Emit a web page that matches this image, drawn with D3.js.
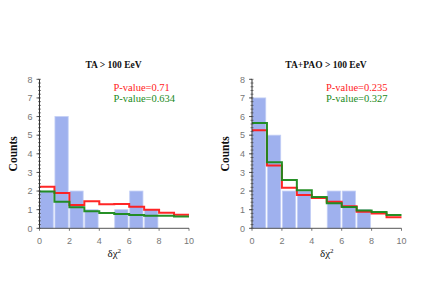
<!DOCTYPE html>
<html>
<head>
<meta charset="utf-8">
<script src="https://cdn.jsdelivr.net/npm/d3@7"></script>
<style>
  html, body { margin: 0; padding: 0; background: #fff; }
  svg { display: block; }
  .tick-lbl { font-family: "Liberation Sans", Arial, sans-serif; font-size: 9px; fill: #777; }
  .title { font-family: "Liberation Serif", "Times New Roman", serif; font-size: 9.5px; font-weight: bold; fill: #111; }
  .ylab { font-family: "Liberation Serif", "Times New Roman", serif; font-size: 11.5px; font-weight: bold; fill: #111; }
  .xlab { font-family: "Liberation Serif", "Times New Roman", serif; font-size: 11px; fill: #111; }
  .pval { font-family: "Liberation Serif", "Times New Roman", serif; font-size: 10.5px; }
</style>
</head>
<body>
<svg id="chart" width="425" height="297"></svg>
<script>
'use strict';

// bin edges are 0..10 in steps of 1
const bin_starts = [0, 1, 2, 3, 4, 5, 6, 7, 8, 9];
const x_ticks = [0, 2, 4, 6, 8, 10];
const y_ticks = [0, 1, 2, 3, 4, 5, 6, 7, 8];

const titles = ['TA > 100 EeV', 'TA+PAO > 100 EeV'];

const counts_ta = [2, 6, 2, 1, 0, 1, 2, 1, 0, 0];
const red_ta = [2.23, 1.89, 1.25, 1.45, 1.29, 1.3, 1.16, 1.0, 0.84, 0.73];
const green_ta = [1.98, 1.43, 1.13, 0.91, 0.82, 0.77, 0.71, 0.68, 0.68, 0.64];
const pvals_ta = ['P-value=0.71', 'P-value=0.634'];

const counts_tapao = [7, 5, 2, 2, 0, 2, 2, 1, 0, 0];
const red_tapao = [5.27, 3.37, 2.18, 1.79, 1.63, 1.43, 1.18, 0.89, 0.79, 0.59];
const green_tapao = [5.66, 3.55, 2.6, 2.04, 1.68, 1.34, 1.14, 0.96, 0.87, 0.71];
const pvals_tapao = ['P-value=0.235', 'P-value=0.327'];

const RED = '#ff1a1a';
const GREEN = '#1a8a1a';

const svg = d3.select('#chart');

const drawPanel = ({ left, title, counts, red, green, pvals }) => {

    const x = d3.scaleLinear().domain([0, 10]).range([left, left + 149.5]);
    const y = d3.scaleLinear().domain([0, 8]).range([228.3, 79.3]);
    const g = svg.append('g');

    // histogram bars, slight gap between them
    g.selectAll('rect.bar')
        .data(bin_starts.filter((d, i) => counts[i] > 0))
        .enter().append('rect')
        .attr('class', 'bar')
        .attr('x', d => x(d) + 0.5)
        .attr('width', d => x(d + 0.92) - x(d) - 0.5)
        .attr('y', d => y(counts[bin_starts.indexOf(d)]))
        .attr('height', d => y(0) - y(counts[bin_starts.indexOf(d)]))
        .style('fill', '#9fb1ee')
        .style('stroke', '#c3cff5')
        .style('stroke-width', 0.8);

    // step curves
    const stepLine = vals => {
        const pts = [];
        vals.forEach((v, i) => { pts.push([bin_starts[i], v]); pts.push([bin_starts[i] + 1, v]); });
        return d3.line().x(d => x(d[0])).y(d => y(d[1]))(pts);
    };

    [[red, RED], [green, GREEN]].forEach(([vals, clr]) => {
        g.append('path')
            .attr('d', stepLine(vals))
            .style('fill', 'none')
            .style('stroke', clr)
            .style('stroke-width', 2)
            .style('opacity', 0.95);
    });

    // y axis with minor ticks
    const y_axis = g.append('g').attr('transform', `translate(${x(0)},0)`);
    y_axis.append('line')
        .attr('y1', y(0)).attr('y2', y(8))
        .style('stroke', '#333').style('stroke-width', 1);
    y_axis.selectAll('line.minor')
        .data(d3.range(0, 8.01, 0.2))
        .enter().append('line')
        .attr('class', 'minor')
        .attr('x1', -1.5).attr('x2', 1.5)
        .attr('y1', d => y(d)).attr('y2', d => y(d))
        .style('stroke', '#333').style('stroke-width', 0.6);
    y_axis.selectAll('line.major')
        .data(y_ticks)
        .enter().append('line')
        .attr('class', 'major')
        .attr('x1', -3).attr('x2', 0)
        .attr('y1', d => y(d)).attr('y2', d => y(d))
        .style('stroke', '#333').style('stroke-width', 0.8);
    y_axis.selectAll('text')
        .data(y_ticks)
        .enter().append('text')
        .attr('class', 'tick-lbl')
        .attr('x', -7).attr('y', d => y(d) + 3.2)
        .attr('text-anchor', 'end')
        .text(d => d);

    // x axis
    const x_axis = g.append('g').attr('transform', `translate(0,${y(0)})`);
    x_axis.append('line')
        .attr('x1', x(0)).attr('x2', x(10))
        .style('stroke', '#555').style('stroke-width', 1);
    x_axis.selectAll('line.tk')
        .data(x_ticks)
        .enter().append('line')
        .attr('class', 'tk')
        .attr('x1', d => x(d)).attr('x2', d => x(d))
        .attr('y1', 0).attr('y2', 2.5)
        .style('stroke', '#555').style('stroke-width', 0.8);
    x_axis.selectAll('text')
        .data(x_ticks)
        .enter().append('text')
        .attr('class', 'tick-lbl')
        .attr('x', d => x(d)).attr('y', 16)
        .attr('text-anchor', 'middle')
        .text(d => d);

    // labels
    g.append('text')
        .attr('class', 'title')
        .attr('x', x(4.95)).attr('y', 68)
        .attr('text-anchor', 'middle')
        .text(title);

    g.append('text')
        .attr('class', 'ylab')
        .attr('transform', `translate(${x(0) - 23},${y(4)}) rotate(-90)`)
        .attr('text-anchor', 'middle')
        .text('Counts');

    const xl = g.append('text')
        .attr('class', 'xlab')
        .attr('x', x(5)).attr('y', 257)
        .attr('text-anchor', 'middle');
    xl.append('tspan').text('δχ');
    xl.append('tspan').attr('dy', -4).style('font-size', '7px').text('2');

    pvals.forEach((p, i) => {
        g.append('text')
            .attr('class', 'pval')
            .attr('x', x(4.95)).attr('y', 91 + i * 11)
            .style('fill', i ? GREEN : RED)
            .text(p);
    });
};

drawPanel({ left: 39.5, title: titles[0], counts: counts_ta, red: red_ta, green: green_ta, pvals: pvals_ta });
drawPanel({ left: 252, title: titles[1], counts: counts_tapao, red: red_tapao, green: green_tapao, pvals: pvals_tapao });
</script>
</body>
</html>
